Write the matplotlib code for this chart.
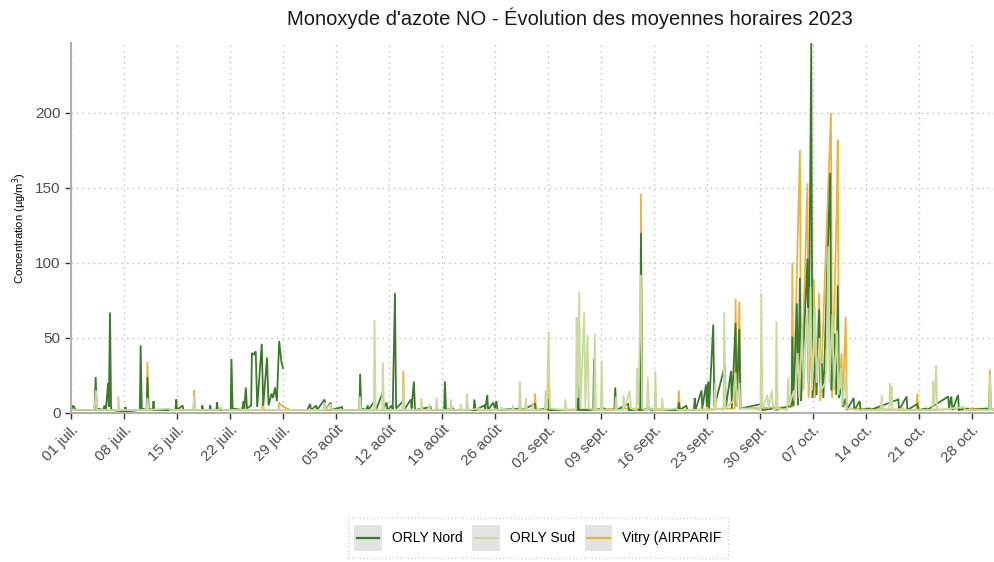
import numpy as np
import pandas as pd
import matplotlib
matplotlib.use("Agg")
import matplotlib.pyplot as plt
from matplotlib.lines import Line2D
from matplotlib.patches import Rectangle
from matplotlib.legend_handler import HandlerBase

plt.rcParams["font.family"] = ["Liberation Sans", "DejaVu Sans"]

START = pd.Timestamp("2023-07-01")

# hourly means: time in days since 1 July, value in µg/m3
nord_days = [0.0, 0.3, 0.6, 3.1, 3.26, 3.4, 4.3, 4.4, 4.6, 4.9, 5.0, 5.15, 5.3,
             7.1, 7.2, 7.3, 9.1, 9.2, 9.35, 10.0, 10.1, 10.25, 10.8, 10.9, 11.0,
             13.8, 13.9, 14.0, 14.75, 14.85, 16.2, 16.25, 16.35, 17.3, 17.35, 17.45,
             18.3, 18.4, 18.5, 19.2, 19.3, 19.4, 21.1, 21.2, 21.35, 22.6, 22.8, 22.9,
             23.1, 23.25, 23.8, 23.9, 24.2, 24.4, 24.6, 25.2, 25.4, 25.9, 26.1, 26.5,
             26.7, 26.95, 27.2, 27.5, 27.8, 28.0, 28.1,
             31.2, 31.6, 31.7, 32.4, 32.5, 33.5, 33.6, 34.3, 34.4, 35.8, 35.9, 38.1,
             38.2, 38.35, 39.0, 39.2, 39.3, 40.1, 40.3, 41.2, 41.3, 41.7, 41.8, 42.4,
             42.5, 42.8, 42.95, 43.9, 44.0, 44.9, 45.0, 45.3, 45.45, 47.5, 47.6,
             49.3, 49.4, 49.55, 50.5, 50.6, 53.2, 53.3, 53.45, 54.6, 54.7, 55.0,
             55.1, 55.8, 56.0, 56.2, 56.35, 59.5, 59.6, 61.3, 61.4, 62.9, 63.0,
             63.15, 66.9, 67.0, 67.15, 69.0, 69.1, 69.25, 70.5, 70.6, 71.8, 71.9,
             72.05, 73.6, 73.7, 75.2, 75.3, 75.45, 76.5, 76.6, 80.2, 80.3, 80.45,
             81.3, 81.4, 82.3, 82.4, 82.5, 83.3, 83.4, 83.9, 84.0, 84.2, 84.3, 84.85,
             85.0, 86.4, 86.5, 87.2, 87.3, 87.8, 87.95, 88.3, 88.45, 91.2, 91.35,
             93.0, 93.1, 95.2, 95.3, 95.45, 95.9, 96.05, 96.3, 96.45, 97.3, 97.45,
             97.8, 97.95, 98.4, 98.5, 98.85, 99.0, 99.2, 99.4, 100.3, 100.45, 100.9,
             101.1, 101.3, 101.45, 101.8, 102.0, 102.35, 102.5, 103.4, 103.5, 104.2,
             104.3, 105.5, 105.6, 109.3, 109.4, 110.4, 110.5, 111.8, 112.0, 113.0,
             113.1, 115.9, 116.0, 116.3, 116.45, 117.2, 117.3, 118.5, 118.6, 121.3,
             121.4, 121.5, 122.0]
nord_vals = [2, 5, 2, 2, 24, 3, 2, 5, 2, 20, 4, 67, 2,
             1, 4, 1, 2, 45, 3, 2, 24, 3, 2, 8, 2,
             2, 9, 2, 5, 2, 2, 8, 2, 2, 5, 2,
             2, 5, 2, 2, 7, 2, 2, 36, 3, 2, 8, 3,
             17, 3, 5, 40, 39, 41, 4, 46, 5, 37, 5, 13,
             10, 17, 8, 48, 34, 30, np.nan,
             2, 6, 2, 5, 2, 9, 2, 7, 2, 4, 2, 2,
             26, 3, 2, 5, 2, 8, 2, 14, 3, 7, 2, 5,
             2, 80, 3, 8, 2, 9, 3, 21, 2, 4, 2,
             2, 21, 2, 3, 2, 2, 9, 2, 5, 2, 12,
             2, 7, 3, 8, 2, 3, 2, 6, 2, 3, 9,
             2, 2, 20, 2, 2, 36, 2, 3, 2, 2, 17,
             2, 6, 2, 2, 120, 2, 3, 2, 2, 7, 2,
             5, 2, 2, 10, 2, 15, 3, 19, 4, 21, 3, 59,
             4, 32, 3, 28, 3, 60, 5, 56, 3, 6, 2,
             3, 2, 5, 51, 5, 73, 5, 90, 8, 103, 20,
             247, 10, 40, 12, 69, 20, 33, 10, 160, 15, 53,
             12, 85, 10, 17, 4, 10, 2, 10, 2, 8,
             2, 3, 2, 9, 2, 11, 2, 6, 2, 3,
             2, 11, 3, 11, 2, 12, 2, 3, 2, 3,
             20, 3, 2]

sud_days = [0.0, 3.1, 3.3, 3.45, 6.2, 6.25, 6.4, 10.0, 10.1, 10.25, 13.0, 13.1,
            16.2, 16.25, 16.4, 19.6, 19.7, 20.0, 25.2, 25.3, 25.4, 27.4, 27.5, 27.6,
            33.4, 33.5, 33.6, 34.3, 34.4, 38.1, 38.2, 38.35, 40.0, 40.1, 40.25,
            41.1, 41.2, 41.35, 43.8, 43.9, 44.05, 46.2, 46.3, 46.45, 47.2, 47.3,
            47.45, 48.2, 48.3, 48.45, 50.1, 50.2, 50.35, 51.4, 51.5, 51.6, 52.2,
            52.3, 52.45, 54.0, 54.1, 56.7, 56.8, 57.0, 58.3, 58.4, 58.5, 59.2, 59.3,
            59.45, 60.0, 60.1, 60.25, 60.9, 61.0, 61.15, 62.6, 62.7, 62.85, 63.1,
            63.25, 65.2, 65.3, 65.45, 66.7, 66.8, 66.95, 67.15, 67.3, 67.8, 67.95,
            68.25, 68.4, 69.1, 69.2, 69.35, 70.0, 70.1, 70.25, 71.9, 72.0, 72.15,
            72.9, 73.0, 73.15, 73.8, 74.0, 74.7, 74.8, 74.95, 75.3, 75.45, 76.1,
            76.2, 76.35, 77.1, 77.2, 77.35, 78.0, 78.1, 78.25, 80.0, 80.1, 85.0,
            85.1, 85.25, 86.2, 86.3, 86.45, 87.5, 87.8, 88.0, 88.3, 88.45, 89.5,
            91.1, 91.2, 91.35, 92.0, 92.15, 92.6, 92.75, 93.1, 93.2, 93.35, 94.6,
            94.75, 94.9, 95.5, 95.6, 96.0, 96.2, 96.6, 96.8, 97.3, 97.45, 97.7,
            97.9, 98.3, 98.5, 98.9, 99.1, 99.6, 99.8, 100.05, 100.2, 100.6, 100.8,
            101.2, 101.4, 101.7, 101.9, 102.3, 102.5, 104.0, 107.0, 107.1, 107.25,
            108.1, 108.2, 108.3, 108.4, 108.55, 110.0, 110.1, 113.8, 113.9, 114.05,
            114.3, 114.45, 118.0, 118.1, 121.3, 121.4, 121.55, 122.0]
sud_vals = [2, 2, 15, 2, 2, 11, 2, 2, 10, 2, 3, 2,
            2, 11, 2, 2, 4, 2, 2, 4, 2, 2, 3, 2,
            2, 7, 2, 6, 2, 2, 11, 2, 2, 62, 2,
            2, 34, 2, 2, 20, 2, 2, 10, 2, 2, 6,
            2, 2, 10, 2, 2, 9, 2, 2, 6, 2, 2,
            13, 2, 3, 2, 2, 4, 2, 2, 5, 2, 2, 21,
            2, 2, 10, 2, 2, 7, 2, 2, 15, 3, 54,
            3, 2, 9, 2, 2, 64, 10, 81, 3, 67, 3,
            52, 3, 2, 53, 2, 2, 35, 2, 2, 11, 2,
            2, 12, 3, 15, 3, 2, 30, 5, 92, 3, 2,
            24, 3, 2, 28, 2, 2, 10, 2, 3, 2, 2,
            20, 3, 2, 67, 3, 8, 27, 5, 20, 3, 3,
            2, 80, 3, 12, 3, 15, 3, 2, 61, 3, 2,
            24, 5, 15, 8, 40, 10, 56, 15, 70, 20, 84,
            15, 71, 20, 50, 15, 20, 30, 111, 20, 66, 15,
            55, 12, 30, 5, 25, 3, 2, 2, 12, 2,
            2, 20, 5, 18, 2, 3, 2, 2, 21, 5,
            32, 2, 4, 2, 2, 25, 3, 2]

vitry_days = [0.0, 10.0, 10.1, 10.25, 16.2, 16.25, 16.4, 25.2, 25.3, 25.5, 27.4,
              27.5, 27.8, 28.5, 29.0, 33.4, 33.5, 33.65, 43.8, 43.9, 44.05, 61.2,
              61.3, 61.45, 63.0, 63.1, 63.25, 75.2, 75.3, 75.45, 80.2, 80.3, 80.45,
              87.7, 87.8, 87.95, 88.3, 88.45, 95.2, 95.3, 95.45, 96.3, 96.45, 97.3,
              97.45, 98.15, 98.3, 98.85, 99.0, 100.4, 100.55, 101.15, 101.3, 101.45,
              101.8, 101.95, 102.35, 102.5, 111.7, 111.8, 111.95, 121.3, 121.4,
              121.55, 122.0]
vitry_vals = [2, 2, 34, 2, 2, 15, 2, 2, 8, 2, 2,
              7, 5, 3, 2, 2, 8, 2, 2, 28, 2, 2,
              13, 2, 2, 33, 2, 3, 146, 3, 2, 15, 2,
              3, 76, 4, 74, 3, 4, 100, 4, 175, 8, 153,
              10, 89, 10, 80, 8, 200, 10, 134, 182, 10,
              40, 5, 64, 3, 2, 13, 2, 3, 29,
              3, 2]

series_names = ["ORLY Nord", "ORLY Sud", "Vitry (AIRPARIF"]
series_colors = ["#3c7a2b", "#c9da9f", "#e9b441"]

tick_labels = ["01 juil.", "08 juil.", "15 juil.", "22 juil.", "29 juil.",
               "05 août", "12 août", "19 août", "26 août", "02 sept.",
               "09 sept.", "16 sept.", "23 sept.", "30 sept.", "07 oct.",
               "14 oct.", "21 oct.", "28 oct."]


def to_time(days):
    return START + pd.to_timedelta(np.asarray(days, dtype=float), unit="D")


class KeyHandler(HandlerBase):
    """ggplot-like legend key: grey square with the line through its middle."""

    def create_artists(self, legend, orig_handle, xdescent, ydescent,
                       width, height, fontsize, trans):
        x0, y0 = -xdescent, -ydescent
        bg = Rectangle((x0, y0), width, height, facecolor="#e3e3e3",
                       edgecolor="none", transform=trans)
        yc = y0 + height / 2
        ln = Line2D([x0 + 0.1 * width, x0 + 0.9 * width], [yc, yc],
                    color=orig_handle.get_color(), lw=1.6, transform=trans)
        return [bg, ln]


fig = plt.figure(figsize=(9.94, 5.62), dpi=100)
ax = fig.add_axes([71 / 994, 149 / 562, 931 / 994, 370 / 562])

data = {
    "ORLY Nord": (nord_days, nord_vals),
    "ORLY Sud": (sud_days, sud_vals),
    "Vitry (AIRPARIF": (vitry_days, vitry_vals),
}
# draw order: Vitry underneath, ORLY Sud on top
for name in ["Vitry (AIRPARIF", "ORLY Nord", "ORLY Sud"]:
    d, v = data[name]
    col = series_colors[series_names.index(name)]
    ax.plot(to_time(d), v, color=col, lw=1.3, solid_joinstyle="miter")

ticks = START + pd.to_timedelta(np.arange(len(tick_labels)) * 7, unit="D")
ax.set_xticks(ticks)
ax.set_xticklabels(tick_labels, rotation=45, ha="right", va="top",
                   rotation_mode="anchor", fontsize=11, color="#4d4d4d")
ax.set_xlim(START, START + pd.Timedelta(days=123))
ax.set_ylim(0, 246.5)
ax.set_yticks([0, 50, 100, 150, 200])
ax.tick_params(axis="y", labelsize=11, labelcolor="#4d4d4d", length=4,
               color="#333333", width=1)
ax.tick_params(axis="x", length=4, color="#333333", width=1, pad=3)

ax.grid(True, linestyle=(0, (1, 3)), color="#bdbdbd", lw=1)
ax.set_axisbelow(True)
for s in ["top", "right"]:
    ax.spines[s].set_visible(False)
ax.spines["left"].set_color("#b0b0b0")
ax.spines["left"].set_linewidth(1.5)
ax.spines["bottom"].set_color("#b0b0b0")
ax.spines["bottom"].set_linewidth(1.5)

fig.text(20 / 994, 1 - 228 / 562, "Concentration (µg/m$^3$)", rotation=90,
         ha="center", va="center", fontsize=8)
fig.text(570 / 994, 1 - 18 / 562,
         "Monoxyde d'azote NO - Évolution des moyennes horaires 2023",
         ha="center", va="center", fontsize=14.5, color="#1a1a1a")

handles = [Line2D([], [], color=c) for c in series_colors]
leg = fig.legend(handles, series_names, loc="center", ncol=3,
                 bbox_to_anchor=(538 / 994, 1 - 538 / 562), fontsize=10,
                 handlelength=2.0, handleheight=2.6, columnspacing=0.7,
                 handletextpad=0.7, borderpad=0.5, borderaxespad=0,
                 frameon=True, fancybox=False,
                 handler_map={Line2D: KeyHandler()})
frame = leg.get_frame()
frame.set_linestyle(":")
frame.set_edgecolor("#c8c8c8")
frame.set_linewidth(1)

fig.savefig("out.png", dpi=100)
